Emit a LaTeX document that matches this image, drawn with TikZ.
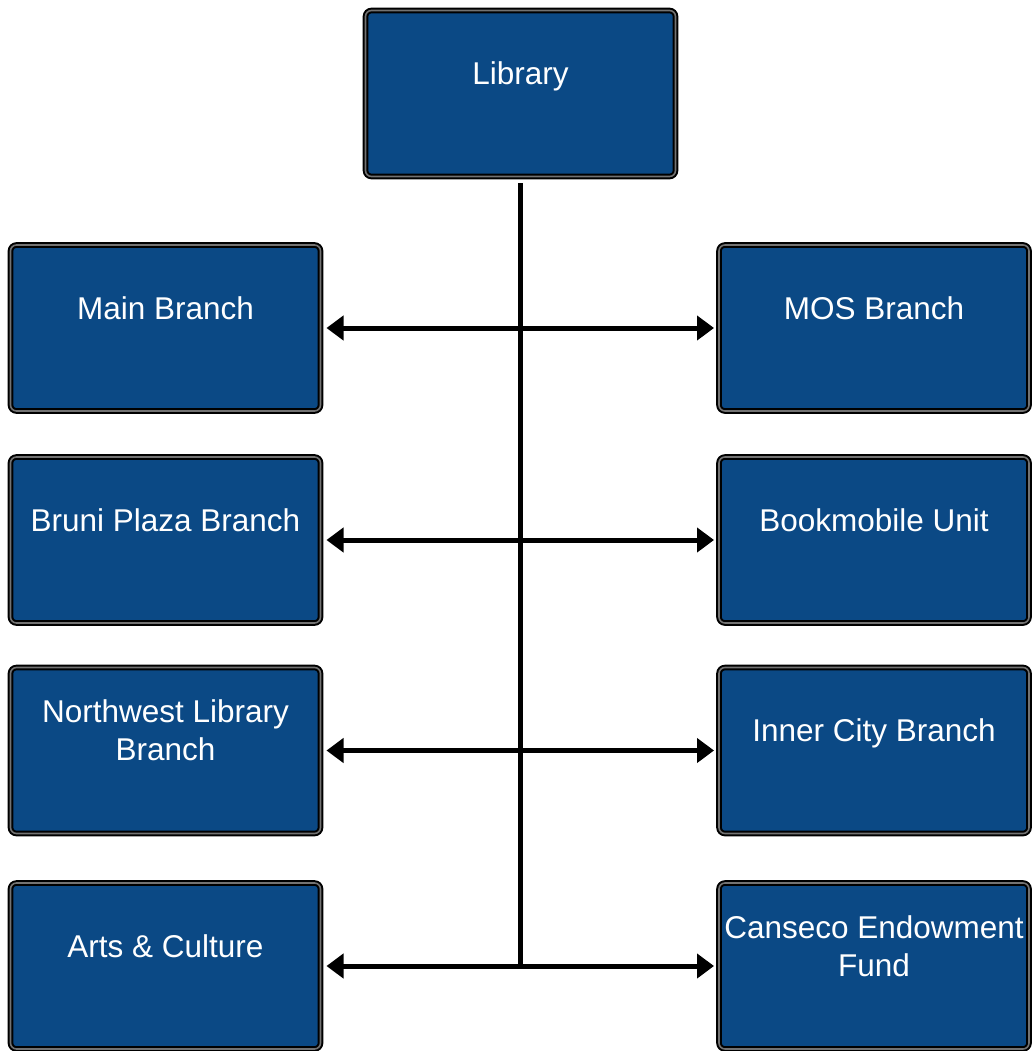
\documentclass[tikz,border=0pt]{standalone}
\usepackage{fontspec}
\setmainfont{Liberation Sans}
\usetikzlibrary{arrows.meta}
\definecolor{unitblue}{RGB}{11,73,133}
\tikzset{%
  % dark blue box with a black-grey-black border
  unitbox/.style={rectangle, draw=black, line width=2pt, double=black!55, double distance=1.6pt,
    rounded corners=6pt, fill=unitblue, minimum width=310pt, minimum height=166pt, inner sep=0pt},
  % white text, sits a bit above the centre of its box
  unitlabel/.style={text=white, align=center, yshift=20pt, font=\fontsize{31.5}{37.8}\selectfont},
  % double headed link between two boxes of a row
  unitlink/.style={{Triangle[length=17pt,width=24pt]}-{Triangle[length=17pt,width=24pt]},
    line width=5pt, shorten <=5pt, shorten >=4pt},
  spine/.style={-, line width=5pt}
}
\begin{document}
\begin{tikzpicture}[x=1pt, y=1pt]
  \useasboundingbox (0,0) rectangle (1035,-1051);
  \node[unitbox, label={[name=libtxt, unitlabel, yshift=-3pt]center:Library}] (lib) at (520.5,-93.5) {};
  % left column
  \node[unitbox, label={[name=maintxt, unitlabel]center:Main Branch}] (main) at (165.5,-328) {};
  \node[unitbox, label={[name=brunitxt, unitlabel]center:Bruni Plaza Branch}] (bruni) at (165.5,-540) {};
  \node[unitbox, label={[name=nwtxt, unitlabel]center:Northwest Library\\Branch}] (nw) at (165.5,-750.5) {};
  \node[unitbox, label={[name=artstxt, unitlabel]center:Arts \& Culture}] (arts) at (165.5,-966) {};
  % right column
  \node[unitbox, label={[name=mostxt, unitlabel]center:MOS Branch}] (mos) at (874,-328) {};
  \node[unitbox, label={[name=booktxt, unitlabel]center:Bookmobile Unit}] (book) at (874,-540) {};
  \node[unitbox, label={[name=innertxt, unitlabel, yshift=-3pt]center:Inner City Branch}] (inner) at (874,-750.5) {};
  \node[unitbox, label={[name=fundtxt, unitlabel]center:Canseco Endowment\\Fund}] (fund) at (874,-966) {};

  \draw[spine] ([yshift=-6pt]lib.south) -- (lib.south |- arts.east);
  \draw[unitlink] (main.east) -- (mos.west);
  \draw[unitlink] (bruni.east) -- (book.west);
  \draw[unitlink] (nw.east) -- (inner.west);
  \draw[unitlink] (arts.east) -- (fund.west);
\end{tikzpicture}
\end{document}
